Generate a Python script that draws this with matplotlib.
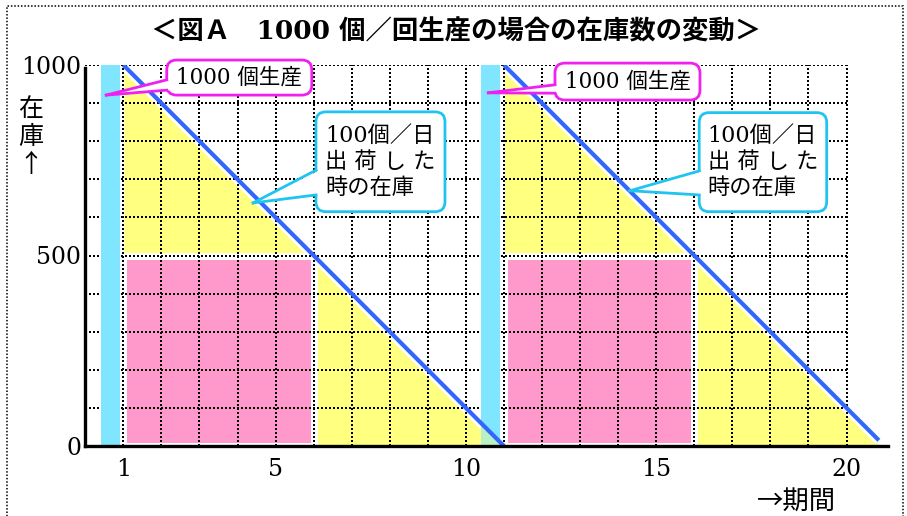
import matplotlib
matplotlib.use("Agg")
import matplotlib.pyplot as plt
from matplotlib.patches import Rectangle, Polygon, FancyBboxPatch
from matplotlib.lines import Line2D

# ---- data ---------------------------------------------------------------
lot_size = 1000            # units produced per run
daily_shipment = 100       # units shipped per day
cycle_days = [[1, 11], [11, 20.85]]          # inventory line, start/end day
cycle_stock = [[1000, 0], [1000, 15]]        # inventory at those days
half_level = 500                              # average-stock band
half_days = [[1, 6], [11, 16]]                # band start/end day
production_days = [[0.4, 0.9], [10.4, 10.9]]  # production bars
x_ticks = [1, 5, 10, 15, 20]
y_ticks = [0, 500, 1000]
grid_days = list(range(1, 21))
grid_levels = list(range(100, 1001, 100))

title = "＜図Ａ　1000 個／回生産の場合の在庫数の変動＞"
prod_label = "1000 個生産"
ship_label = "100個／日\n出 荷 し た\n時の在庫"

# ---- style --------------------------------------------------------------
YELLOW = "#FFFF80"
PINK = "#FF99CC"
CYAN = "#80E5FF"
BLUE = "#3366FF"
MAGENTA = "#F020F0"
SKY = "#20C4F0"
NUM_FONT = ["DejaVu Serif", "Noto Sans CJK JP"]
JP_FONT = ["Noto Sans CJK JP", "DejaVu Sans"]
DOT = (0, (1.0, 1.2))

W, H = 907, 516
fig = plt.figure(figsize=(W / 100, H / 100), dpi=100)
ax = fig.add_axes([85.3 / W, 70 / H, 21.1 * 38.06 / W, 381 / H])
ax.set_xlim(0, 21.1)
ax.set_ylim(0, 1000)

# inventory areas
for (d0, d1), (s0, s1) in zip(cycle_days, cycle_stock):
    ax.add_patch(Polygon([(d0, 0), (d0, s0), (d1, s1), (d1, 0)], closed=True,
                         fc=YELLOW, ec="white", lw=1.5, zorder=1))
for d0, d1 in half_days:
    ax.add_patch(Rectangle((d0, 0), d1 - d0, half_level, fc=PINK,
                           ec="white", lw=5, zorder=1.5))

# white halo under the stock line
for days, stock in zip(cycle_days, cycle_stock):
    ax.plot(days, stock, color="white", lw=7, solid_capstyle="butt", zorder=1.8)

# dotted grid
for d in grid_days:
    ax.plot([d, d], [0, 1000], color="black", lw=1.4, ls=DOT, zorder=2,
            antialiased=False)
for v in grid_levels:
    ax.plot([0, 20], [v, v], color="black", lw=1.4, ls=DOT, zorder=2,
            antialiased=False)

# production bars
for (p0, p1) in production_days:
    bar = Rectangle((p0, 0), p1 - p0, lot_size, fc=CYAN, ec="none", zorder=3)
    ax.add_patch(bar)
    for (d0, d1), (s0, s1) in zip(cycle_days, cycle_stock):
        tint = Polygon([(d0, 0), (d0, s0), (d1, s1), (d1, 0)], closed=True,
                       fc=YELLOW, ec="none", alpha=0.45, zorder=3.1)
        ax.add_patch(tint)
        tint.set_clip_path(bar)

# stock lines
for days, stock in zip(cycle_days, cycle_stock):
    ax.plot(days, stock, color=BLUE, lw=3, solid_capstyle="butt", zorder=4)

# axes
for s in ("top", "right"):
    ax.spines[s].set_visible(False)
for s in ("left", "bottom"):
    ax.spines[s].set_linewidth(2.4)
    ax.spines[s].set_zorder(5)
ax.spines["left"].set_bounds(0, 992)
ax.set_xticks(x_ticks)
ax.set_yticks(y_ticks)
ax.set_xticklabels([str(t) for t in x_ticks], family=NUM_FONT, fontsize=17)
ax.set_yticklabels([str(t) for t in y_ticks], family=NUM_FONT, fontsize=17)
ax.tick_params(axis="x", length=0, pad=9)
ax.tick_params(axis="y", length=0, pad=3)


def callout(box, base, tip, color, text, fontsize, lw=2.0):
    x0, x1, y0, y1 = box
    patch = FancyBboxPatch((x0, y0), x1 - x0, y1 - y0,
                           boxstyle="round,pad=0,rounding_size=0.26",
                           mutation_aspect=100, fc="white", ec=color, lw=lw,
                           zorder=6, clip_on=False)
    ax.add_patch(patch)
    b0, b1 = base
    ax.add_patch(Polygon([(x0 + 0.1, b0), tip, (x0 + 0.1, b1)], closed=True,
                         fc="white", ec="none", zorder=6.1, clip_on=False))
    for b in base:
        ax.add_line(Line2D([x0, tip[0]], [b, tip[1]], color=color, lw=lw,
                           zorder=6.2, clip_on=False))
    ax.text((x0 + x1) / 2, (y0 + y1) / 2, text, ha="center", va="center",
            multialignment="left", family=NUM_FONT, fontsize=fontsize,
            linespacing=1.22, zorder=7)


# production callouts
callout((2.14, 5.95, 921, 1013), (961, 934), (0.55, 921), MAGENTA, prod_label, 15.5)
callout((12.34, 16.15, 908, 1005), (948, 926), (10.59, 927), MAGENTA, prod_label, 15.5)
# shipment callouts
callout((6.06, 9.45, 615, 877), (724, 659), (4.41, 638), SKY, ship_label, 16)
callout((16.13, 19.48, 615, 875), (722, 659), (14.31, 670), SKY, ship_label, 16)

# titles and axis captions
fig.text(456 / W, 1 - 32 / H, title, ha="center", va="center",
         family=NUM_FONT, fontsize=19, fontweight="bold")
fig.text(31 / W, 1 - 137 / H, "在\n庫\n↑", ha="center", va="center",
         family=JP_FONT, fontsize=18, linespacing=1.08)
fig.text(796 / W, 1 - 501 / H, "→期間", ha="center", va="center",
         family=JP_FONT, fontsize=19)

# dotted frame around the figure
fig.add_artist(Rectangle((7 / W, -0.05), (903 - 7) / W, 1.05 - 6 / H,
                         transform=fig.transFigure, fill=False, ec="black",
                         lw=1.1, ls=DOT))

fig.savefig("out.png", dpi=100)
